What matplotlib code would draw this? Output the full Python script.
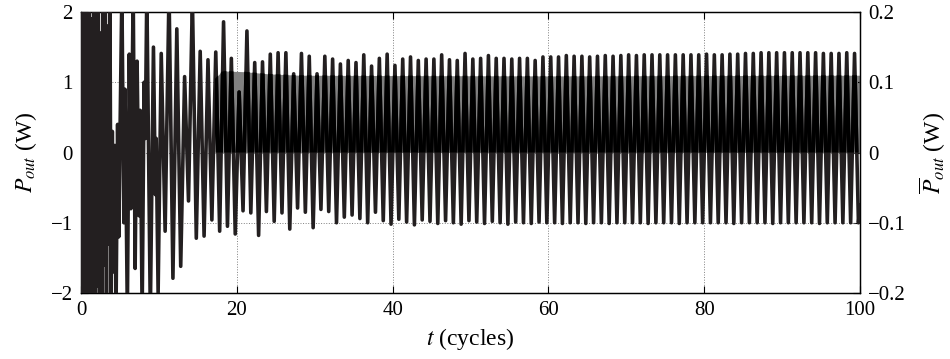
import numpy as np
import matplotlib
matplotlib.use("Agg")
import matplotlib.pyplot as plt

plt.rcParams["font.family"] = ["Liberation Serif", "DejaVu Serif"]
plt.rcParams["mathtext.fontset"] = "stix"

# --- start-up transient: turning points (t in cycles, P_out in W) ---
early_t = [0.0, 0.12, 0.27, 0.42, 0.57, 0.72, 0.87, 1.02, 1.17, 1.32, 1.47,
           1.62, 1.77, 1.92, 2.07, 2.22, 2.37, 2.52, 2.67, 2.82, 2.97, 3.12,
           3.27, 3.42, 3.57, 3.72, 3.87, 4.02, 4.17, 4.35, 4.5, 4.7, 4.85,
           5.0, 5.25, 5.5, 5.65, 5.95, 6.2, 6.4, 6.7, 6.95, 7.2, 7.45, 7.6,
           7.85, 8.1, 8.25, 8.45, 8.9, 9.3, 9.55, 9.65, 9.9]
early_p = [0.0, 2.6, -2.5, 2.4, -2.6, 2.2, -2.4, 2.5, -2.3, 1.9, -2.5,
           2.4, -2.2, 2.5, -1.9, 2.3, -2.4, 1.7, -2.5, 2.2, -1.6, 2.3,
           -2.1, 1.8, -1.3, 2.0, -2.2, 0.3, -1.7, 0.1, -2.2, 0.4, -1.2,
           0.2, 2.3, -1.0, 0.9, -2.3, 1.4, -0.8, 2.3, -1.65, 1.3, -0.9, 0.6,
           -2.3, 1.0, 0.2, 2.3, -2.3, 1.5, -0.6, 0.2, -2.0]

# --- one maximum and one minimum per cycle from cycle 10 on ---
first_cycle = 10
cycle_max = [1.41, 2.30, 1.76, 1.08, 2.20, 1.44, 1.32, 1.43, 1.86, 1.34,
             0.86, 1.73, 1.28, 1.29, 1.40, 1.42, 1.42, 1.12, 1.41, 1.37,
             1.12, 1.37, 1.33, 1.26, 1.31, 1.28, 1.39, 1.23, 1.34, 1.40,
             1.24, 1.33, 1.36, 1.31, 1.33, 1.33, 1.39, 1.32, 1.31, 1.41,
             1.33, 1.34, 1.38, 1.34, 1.34, 1.33, 1.34, 1.34, 1.31, 1.36,
             1.36, 1.36, 1.38, 1.37, 1.37, 1.36, 1.37, 1.38, 1.37, 1.38,
             1.39, 1.38, 1.39, 1.39, 1.39, 1.39, 1.39, 1.39, 1.39, 1.39,
             1.40, 1.39, 1.39, 1.40, 1.40, 1.41, 1.41, 1.42, 1.42, 1.42,
             1.42, 1.42, 1.42, 1.42, 1.42, 1.41, 1.41, 1.41, 1.42, 1.41]
cycle_min = [-1.12, -1.79, -1.62, -0.69, -1.22, -1.19, -0.96, -1.12, -1.05, -1.16,
             -0.83, -0.86, -1.18, -0.84, -0.98, -0.86, -1.09, -0.79, -0.85, -1.07,
             -0.81, -0.84, -1.00, -0.92, -0.89, -0.94, -1.00, -0.85, -0.97, -1.02,
             -0.95, -0.99, -1.03, -0.96, -0.98, -1.01, -0.97, -1.00, -1.02, -0.97,
             -0.99, -1.01, -0.98, -1.00, -1.02, -0.99, -1.00, -1.01, -0.99, -1.00,
             -1.00, -1.01, -1.00, -1.00, -1.01, -1.00, -1.00, -1.01, -1.00, -1.00,
             -1.00, -1.00, -1.01, -1.00, -1.00, -1.00, -1.01, -1.00, -1.00, -1.00,
             -1.00, -1.00, -1.00, -1.01, -1.00, -1.00, -1.00, -1.00, -1.01, -1.00,
             -1.00, -1.00, -1.00, -1.00, -1.01, -1.00, -1.00, -1.00, -1.00, -1.00]
end_t, end_p = 100.0, -0.75

# --- running mean of the output power (right axis, W) ---
mean_t = [17.2, 18.0, 18.5, 21.0, 24.0, 28.0, 40.0, 60.0, 80.0, 100.0]
mean_p = [0.105, 0.115, 0.116, 0.115, 0.112, 0.110, 0.1095, 0.109, 0.1095, 0.110]

# assemble the turning-point sequence
t = list(early_t)
p = list(early_p)
for i, (hi, lo) in enumerate(zip(cycle_max, cycle_min)):
    k = first_cycle + i
    t += [k + 0.3, k + 0.8]
    p += [hi, lo]
t.append(end_t)
p.append(end_p)
t = np.array(t)
p = np.array(p)

fig = plt.figure(figsize=(9.5, 3.59), dpi=100)
ax = fig.add_axes([81 / 950, 1 - 293 / 359, 779 / 950, 281 / 359])
ax2 = ax.twinx()

# mean power fill sits under the signal
fill = ax2.fill_between(mean_t, 0, mean_p, color="#808080", lw=0)
ax.set_zorder(2)
ax2.set_zorder(1)
ax.patch.set_visible(False)

lw = 2.6
ax.plot(t, p, color="#231f20", lw=lw, solid_joinstyle="round",
        solid_capstyle="round", zorder=3)
# inside the shaded band the trace reads as pure black
dark, = ax.plot(t, p, color="black", lw=lw, solid_joinstyle="round",
                solid_capstyle="round", zorder=4)
dark.set_clip_path(fill.get_paths()[0], ax2.transData)

ax.set_xlim(0, 100)
ax.set_ylim(-2, 2)
ax2.set_ylim(-0.2, 0.2)
ax.set_xticks([0, 20, 40, 60, 80, 100])
ax.set_yticks([-2, -1, 0, 1, 2])
ax2.set_yticks([-0.2, -0.1, 0, 0.1, 0.2])
ax.set_yticklabels(["\u22122", "\u22121", "0", "1", "2"])
ax2.set_yticklabels(["\u22120.2", "\u22120.1", "0", "0.1", "0.2"])

ax.grid(True, color="#808080", linestyle=":", linewidth=0.7)
ax.tick_params(axis="both", direction="in", length=5, width=0.8,
               labelsize=15, top=True, pad=6)
ax2.tick_params(axis="y", direction="in", length=5, width=0.8,
                labelsize=15, pad=6)
for a in (ax, ax2):
    for s in a.spines.values():
        s.set_linewidth(0.9)

ax.set_xlabel(r"$t$ (cycles)", fontsize=17, labelpad=4)
ax.set_ylabel(r"$P_{out}$ (W)", fontsize=17, labelpad=8)
ax2.set_ylabel(r"$\overline{P}_{out}$ (W)", fontsize=17, labelpad=8,
               rotation=90)

fig.savefig("out.png", dpi=100)
